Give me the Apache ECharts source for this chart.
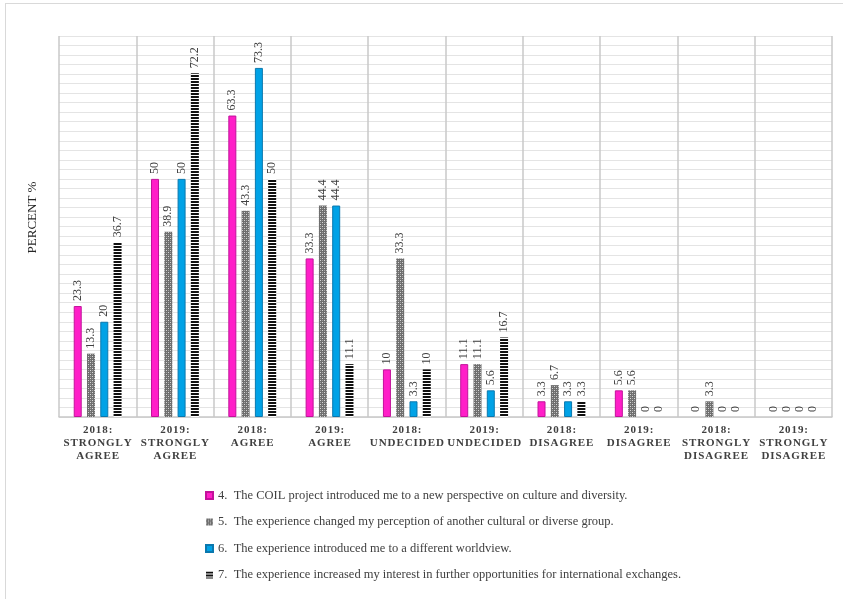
<!DOCTYPE html>
<html>
<head>
<meta charset="utf-8">
<script src="https://cdn.jsdelivr.net/npm/echarts@6/dist/echarts.min.js"></script>
<style>
html,body{margin:0;padding:0;background:#fff;}
#chart{width:843px;height:599px;}
</style>
</head>
<body>
<div id="chart"></div>
<script>
const categories = [
  '2018:\nSTRONGLY\nAGREE', '2019:\nSTRONGLY\nAGREE', '2018:\nAGREE', '2019:\nAGREE',
  '2018:\nUNDECIDED', '2019:\nUNDECIDED', '2018:\nDISAGREE', '2019:\nDISAGREE',
  '2018:\nSTRONGLY\nDISAGREE', '2019:\nSTRONGLY\nDISAGREE'
];
const seriesNames = [
  '4.  The COIL project introduced me to a new perspective on culture and diversity.',
  '5.  The experience changed my perception of another cultural or diverse group.',
  '6.  The experience introduced me to a different worldview.',
  '7.  The experience increased my interest in further opportunities for international exchanges.'
];
const q4 = [23.3, 50, 63.3, 33.3, 10, 11.1, 3.3, 5.6, 0, 0];
const q5 = [13.3, 38.9, 43.3, 44.4, 33.3, 11.1, 6.7, 5.6, 3.3, 0];
const q6 = [20, 50, 73.3, 44.4, 3.3, 5.6, 3.3, 0, 0, 0];
const q7 = [36.7, 72.2, 50, 11.1, 10, 16.7, 3.3, 0, 0, 0];
const yTicks = {min: 0, max: 80, interval: 2};

function spaced(s) {
  return s.split('\n').map(l => l.split('').join('\u200A')).join('\n');
}

function greyPattern() {
  const c = document.createElement('canvas');
  c.width = 4; c.height = 4;
  const x = c.getContext('2d');
  x.fillStyle = '#6e6e6e'; x.fillRect(0, 0, 4, 4);
  x.fillStyle = '#d8d8d8';
  x.fillRect(0, 0, 1, 1); x.fillRect(2, 2, 1, 1);
  x.fillStyle = '#a0a0a0';
  x.fillRect(2, 0, 1, 1); x.fillRect(0, 2, 1, 1);
  return c;
}
function stripePattern() {
  const c = document.createElement('canvas');
  c.width = 8; c.height = 3;
  const x = c.getContext('2d');
  x.fillStyle = '#ffffff'; x.fillRect(0, 0, 8, 3);
  x.fillStyle = '#111111'; x.fillRect(0, 0, 8, 2);
  return c;
}

const serif = '"Liberation Serif", "Times New Roman", serif';
const labelCfg = {
  show: true, position: 'top', rotate: 90, align: 'left', verticalAlign: 'middle',
  distance: 5, fontFamily: serif, fontSize: 12, color: '#404040'
};

const fills = [
  {color: '#FF1FC8', borderColor: '#C2129A', borderWidth: 1},
  {color: {image: greyPattern(), repeat: 'repeat'}, borderColor: '#8a8a8a', borderWidth: 0},
  {color: '#00A2E6', borderColor: '#0A78AE', borderWidth: 1},
  {color: {image: stripePattern(), repeat: 'repeat'}, borderWidth: 0}
];
const datas = [q4, q5, q6, q7];

const chart = echarts.init(document.getElementById('chart'), null, {renderer: 'canvas'});
chart.setOption({
  animation: false,
  backgroundColor: '#ffffff',
  graphic: [
    {type: 'line', shape: {x1: 5, y1: 3.5, x2: 843, y2: 3.5}, style: {stroke: '#d9d9d9', lineWidth: 1}},
    {type: 'line', shape: {x1: 5.5, y1: 3, x2: 5.5, y2: 599}, style: {stroke: '#d9d9d9', lineWidth: 1}}
  ],
  grid: {left: 59, right: 11, top: 36, bottom: 182, containLabel: false},
  legend: {
    orient: 'vertical', left: 200, top: 484, itemWidth: 7, itemHeight: 7, itemGap: 13.5,
    icon: 'rect',
    textStyle: {fontFamily: serif, fontSize: 12.5, color: '#404040'},
    data: seriesNames
  },
  xAxis: {
    type: 'category',
    data: categories,
    axisLine: {lineStyle: {color: '#c8c8c8', width: 1.5}},
    axisTick: {show: false},
    splitLine: {show: true, lineStyle: {color: '#c8c8c8', width: 1.5}},
    axisLabel: {
      interval: 0, margin: 7, fontFamily: serif, fontWeight: 'bold', fontSize: 11,
      color: '#404040', lineHeight: 13,
      formatter: v => spaced(v)
    }
  },
  yAxis: {
    type: 'value', min: yTicks.min, max: yTicks.max, interval: yTicks.interval,
    name: 'PERCENT %', nameLocation: 'middle', nameGap: 20, nameRotate: 90,
    nameTextStyle: {fontFamily: serif, fontSize: 13, color: '#262626', padding: [0, 0, 0, 18]},
    axisLine: {show: false}, axisTick: {show: false}, axisLabel: {show: false},
    splitLine: {lineStyle: {color: '#e4e4e4', width: 1}}
  },
  series: datas.map((d, i) => ({
    name: seriesNames[i],
    type: 'bar',
    data: d.map(v => v === 0 ? {value: v, itemStyle: {borderWidth: 0, color: 'rgba(0,0,0,0)'}} : v),
    barWidth: 8,
    barGap: '66%',
    itemStyle: fills[i],
    label: labelCfg
  }))
});
</script>
</body>
</html>
